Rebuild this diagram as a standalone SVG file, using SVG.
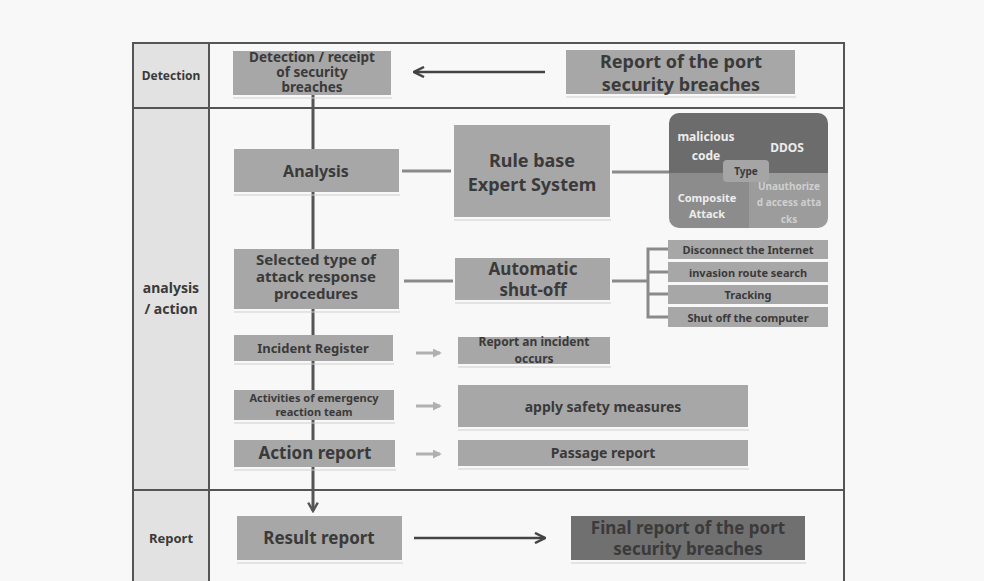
<svg xmlns="http://www.w3.org/2000/svg" width="984" height="581" viewBox="0 0 984 581">
<defs>
<style>
text{font-family:"Noto Sans","Open Sans","Liberation Sans",sans-serif;font-weight:bold;fill:#3a3a3a;text-anchor:middle}
.box{fill:#a7a7a7}
.dark{fill:#707070}
.lane{fill:#e2e2e2;stroke:#555;stroke-width:2}
.grid{stroke:#555;stroke-width:2;fill:none}
.sh{stroke:#cfcfcf;stroke-width:1}
.con{stroke:#8a8a8a;stroke-width:3;fill:none}
.wt{fill:#ececec}
.ft{fill:#cfcfcf}
</style>
<marker id="ah" viewBox="0 0 10 10" refX="9" refY="5" markerWidth="5" markerHeight="5" orient="auto-start-reverse"><path d="M1,1 L9,5 L1,9" fill="none" stroke="#444" stroke-width="2"/></marker>
<marker id="ahd" viewBox="0 0 10 10" refX="8" refY="5" markerWidth="4" markerHeight="4" orient="auto"><path d="M1,1 L8,5 L1,9" fill="none" stroke="#555" stroke-width="2"/></marker>
<marker id="ahl" viewBox="0 0 10 10" refX="8" refY="5" markerWidth="3" markerHeight="3" orient="auto"><path d="M0,0 L10,5 L0,10 Z" fill="#b0b0b0"/></marker>
<clipPath id="tc"><rect x="669" y="113" width="159" height="115" rx="10"/></clipPath>
</defs>
<rect x="0" y="0" width="984" height="581" fill="#f8f8f8"/>
<g id="lanes">
<rect class="lane" x="133" y="43" width="76" height="65"/>
<rect class="lane" x="133" y="108" width="76" height="382"/>
<rect class="lane" x="133" y="490" width="76" height="95"/>
<rect class="grid" x="133" y="43" width="711" height="545"/>
<line class="grid" x1="133" y1="108" x2="844" y2="108"/>
<line class="grid" x1="133" y1="490" x2="844" y2="490"/>
<text x="171" y="80" font-size="12">Detection</text>
<text x="171" y="293" font-size="14">analysis</text>
<text x="171" y="314" font-size="14">/ action</text>
<text x="171" y="543" font-size="13">Report</text>
</g>
<g id="connectors">
<line x1="313" y1="95" x2="313" y2="511" stroke="#555" stroke-width="3" marker-end="url(#ahd)"/>
<line x1="545" y1="72" x2="414" y2="72" stroke="#444" stroke-width="2.5" marker-end="url(#ah)"/>
<line x1="414" y1="538" x2="545" y2="538" stroke="#444" stroke-width="2.5" marker-end="url(#ah)"/>
<line class="con" x1="402" y1="171" x2="451" y2="171"/>
<line class="con" x1="612" y1="172" x2="669" y2="172"/>
<line class="con" x1="404" y1="281" x2="453" y2="281"/>
<line class="con" x1="612" y1="281" x2="648" y2="281"/>
<path class="con" d="M670,249 H648 V317 H670 M648,272 H670 M648,294 H670"/>
<line x1="416" y1="353" x2="440" y2="353" stroke="#b0b0b0" stroke-width="3" marker-end="url(#ahl)"/>
<line x1="416" y1="406" x2="440" y2="406" stroke="#b0b0b0" stroke-width="3" marker-end="url(#ahl)"/>
<line x1="416" y1="454" x2="440" y2="454" stroke="#b0b0b0" stroke-width="3" marker-end="url(#ahl)"/>
</g>
<g id="detection">
<rect class="box" x="233" y="51" width="158" height="44"/>
<line class="sh" x1="233" y1="98" x2="392" y2="98"/>
<text x="312" y="62" font-size="13.5">Detection / receipt</text>
<text x="312" y="77" font-size="13.5">of security</text>
<text x="312" y="92" font-size="13.5">breaches</text>
</g>
<g id="port-report">
<rect class="box" x="566" y="50" width="229" height="44"/>
<line class="sh" x1="566" y1="97" x2="796" y2="97"/>
<text x="681" y="68" font-size="18">Report of the port</text>
<text x="681" y="91" font-size="18">security breaches</text>
</g>
<g id="analysis">
<rect class="box" x="234" y="149" width="165" height="43"/>
<line class="sh" x1="234" y1="195" x2="400" y2="195"/>
<text x="316" y="177" font-size="16">Analysis</text>
</g>
<g id="rule-base">
<rect class="box" x="454" y="125" width="156" height="92"/>
<line class="sh" x1="454" y1="220" x2="611" y2="220"/>
<text x="532" y="167" font-size="18">Rule base</text>
<text x="532" y="191" font-size="18">Expert System</text>
</g>
<g id="type">
<g clip-path="url(#tc)">
<rect x="669" y="113" width="159" height="60" fill="#6c6c6c"/>
<rect x="669" y="173" width="80" height="55" fill="#8c8c8c"/>
<rect x="749" y="173" width="79" height="55" fill="#9c9c9c"/>
</g>
<text class="wt" x="706" y="141" font-size="12">malicious</text>
<text class="wt" x="706" y="160" font-size="12">code</text>
<text class="wt" x="787" y="152" font-size="12">DDOS</text>
<text class="wt" x="707" y="202" font-size="11">Composite</text>
<text class="wt" x="707" y="218" font-size="11">Attack</text>
<text class="ft" x="789" y="190" font-size="10">Unauthorize</text>
<text class="ft" x="789" y="206" font-size="10">d access atta</text>
<text class="ft" x="789" y="223" font-size="10">cks</text>
<rect x="723" y="160" width="46" height="22" rx="4" fill="#a5a5a5"/>
<text x="746" y="175" font-size="10">Type</text>
</g>
<g id="selected">
<rect class="box" x="234" y="249" width="165" height="60"/>
<line class="sh" x1="234" y1="312" x2="400" y2="312"/>
<text x="316" y="265" font-size="15">Selected type of</text>
<text x="316" y="282" font-size="15">attack response</text>
<text x="316" y="299" font-size="15">procedures</text>
</g>
<g id="auto-shutoff">
<rect class="box" x="455" y="258" width="155" height="42"/>
<line class="sh" x1="455" y1="303" x2="611" y2="303"/>
<text x="533" y="275" font-size="17">Automatic</text>
<text x="533" y="296" font-size="17">shut-off</text>
</g>
<g id="actions">
<rect class="box" x="668" y="240" width="160" height="19"/>
<rect class="box" x="668" y="262" width="160" height="20"/>
<rect class="box" x="668" y="285" width="160" height="19"/>
<rect class="box" x="668" y="307" width="160" height="20"/>
<text x="748" y="254" font-size="11">Disconnect  the Internet</text>
<text x="748" y="277" font-size="11">invasion route search</text>
<text x="748" y="299" font-size="11">Tracking</text>
<text x="748" y="322" font-size="11">Shut off the computer</text>
</g>
<g id="incident-register">
<rect class="box" x="234" y="335" width="159" height="26"/>
<line class="sh" x1="234" y1="364" x2="394" y2="364"/>
<text x="313" y="353" font-size="13">Incident Register</text>
</g>
<g id="report-incident">
<rect class="box" x="458" y="337" width="152" height="27"/>
<line class="sh" x1="458" y1="367" x2="611" y2="367"/>
<text x="534" y="346" font-size="12">Report an incident</text>
<text x="534" y="363" font-size="12">occurs</text>
</g>
<g id="emergency">
<rect class="box" x="234" y="390" width="160" height="30"/>
<line class="sh" x1="234" y1="423" x2="395" y2="423"/>
<text x="314" y="402" font-size="11">Activities of emergency</text>
<text x="314" y="416" font-size="11">reaction team</text>
</g>
<g id="safety">
<rect class="box" x="458" y="385" width="290" height="42"/>
<line class="sh" x1="458" y1="430" x2="749" y2="430"/>
<text x="603" y="412" font-size="14">apply safety  measures</text>
</g>
<g id="action-report">
<rect class="box" x="234" y="440" width="161" height="27"/>
<line class="sh" x1="234" y1="470" x2="396" y2="470"/>
<text x="315" y="459" font-size="17">Action report</text>
</g>
<g id="passage">
<rect class="box" x="458" y="440" width="290" height="26"/>
<line class="sh" x1="458" y1="469" x2="749" y2="469"/>
<text x="603" y="458" font-size="14">Passage report</text>
</g>
<g id="result">
<rect class="box" x="237" y="516" width="165" height="44"/>
<line class="sh" x1="237" y1="563" x2="403" y2="563"/>
<text x="319" y="544" font-size="17">Result report</text>
</g>
<g id="final">
<rect class="dark" x="571" y="516" width="234" height="44"/>
<line class="sh" x1="571" y1="563" x2="806" y2="563"/>
<text x="688" y="534" font-size="17">Final report of the port</text>
<text x="688" y="555" font-size="17">security breaches</text>
</g>
</svg>
